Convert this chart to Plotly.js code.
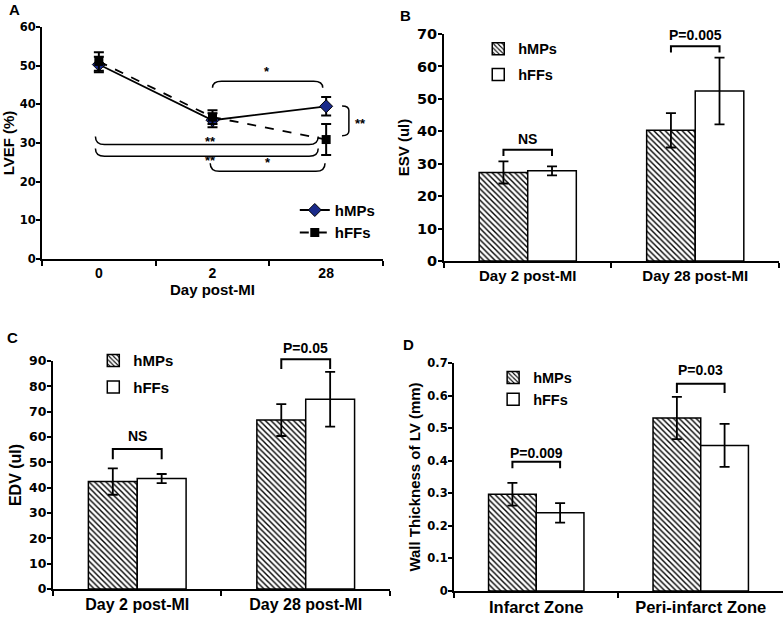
<!DOCTYPE html>
<html><head><meta charset="utf-8">
<script src="https://cdn.plot.ly/plotly-3.0.1.min.js"></script>
<style>html,body{margin:0;padding:0;background:#fff}#chart{width:784px;height:617px}</style>
</head><body><div id="chart"></div>
<script>
// ---- Panel A: LVEF (%) ----
const daysA = ['0', '2', '28'];
const lvefMPs = [50.3, 35.9, 39.5];
const lvefMPsErr = [2.0, 1.8, 2.4];
const lvefFFs = [51.1, 36.7, 30.9];
const lvefFFsErr = [2.4, 1.8, 4.0];
// ---- Panel B: ESV (ul) ----
const catsBC = ['Day 2 post-MI', 'Day 28 post-MI'];
const esvMPs = [27.3, 40.3];
const esvMPsErr = [3.4, 5.3];
const esvFFs = [27.8, 52.4];
const esvFFsErr = [1.4, 10.3];
// ---- Panel C: EDV (ul) ----
const edvMPs = [42.4, 66.7];
const edvMPsErr = [5.2, 6.3];
const edvFFs = [43.6, 74.9];
const edvFFsErr = [1.8, 10.8];
// ---- Panel D: Wall thickness of LV (mm) ----
const catsD = ['Infarct Zone', 'Peri-infarct Zone'];
const wallMPs = [0.297, 0.531];
const wallMPsErr = [0.035, 0.065];
const wallFFs = [0.240, 0.447];
const wallFFsErr = [0.030, 0.066];
// significance labels
const sigB = ['NS', 'P=0.005'];
const sigC = ['NS', 'P=0.05'];
const sigD = ['P=0.009', 'P=0.03'];

const FONT = 'Liberation Sans, Arial, sans-serif';
const NUMFONT = 'DejaVu Sans, sans-serif';
const bold = (s, f) => ({family: f || FONT, size: s, color: '#000', weight: 'bold'});
const BARGAP = 0.42;

const hatch = {shape: '\\', fgcolor: '#000', bgcolor: '#fff', size: 4, solidity: 0.35};

function barPair(x, ya, yb, ea, eb, xa, yax, lg) {
  return [
    {type: 'bar', name: 'hMPs', x: x, y: ya, xaxis: xa, yaxis: yax, legend: lg, legendgroup: lg + 'a',
     marker: {color: '#fff', pattern: hatch, line: {color: '#000', width: 1.5}},
     error_y: {type: 'data', array: ea, color: '#000', thickness: 1.8, width: 5}},
    {type: 'bar', name: 'hFFs', x: x, y: yb, xaxis: xa, yaxis: yax, legend: lg, legendgroup: lg + 'b',
     marker: {color: '#fff', line: {color: '#000', width: 1.5}},
     error_y: {type: 'data', array: eb, color: '#000', thickness: 1.8, width: 5}}
  ];
}

const data = [
  {type: 'scatter', mode: 'lines+markers', name: 'hMPs', x: daysA, y: lvefMPs, xaxis: 'x', yaxis: 'y', legend: 'legend',
   line: {color: '#000', width: 1.8}, marker: {symbol: 'diamond', size: 10, color: '#1a2a8a', line: {color: '#000', width: 1}},
   error_y: {type: 'data', array: lvefMPsErr, color: '#000', thickness: 2, width: 5}},
  {type: 'scatter', mode: 'lines+markers', name: 'hFFs', x: daysA, y: lvefFFs, xaxis: 'x', yaxis: 'y', legend: 'legend',
   line: {color: '#000', width: 1.8, dash: 'dash'}, marker: {symbol: 'square', size: 9, color: '#000'},
   error_y: {type: 'data', array: lvefFFsErr, color: '#000', thickness: 2, width: 5}},
  ...barPair(catsBC, esvMPs, esvFFs, esvMPsErr, esvFFsErr, 'x2', 'y2', 'legend2'),
  ...barPair(catsBC, edvMPs, edvFFs, edvMPsErr, edvFFsErr, 'x3', 'y3', 'legend3'),
  ...barPair(catsD, wallMPs, wallFFs, wallMPsErr, wallFFsErr, 'x4', 'y4', 'legend4')
];

function xax(dom, anchor, fsize, extra) {
  return Object.assign({domain: dom, anchor: anchor, type: 'category', showline: true, linecolor: '#000', linewidth: 2,
    ticks: 'outside', tickson: 'boundaries', ticklen: 5, tickwidth: 2, tickcolor: '#000',
    showgrid: false, zeroline: false, tickfont: bold(fsize), fixedrange: true}, extra || {});
}
function yax(dom, anchor, range, dtick, nsize, title, standoff, tsize) {
  return {domain: dom, anchor: anchor, range: range, dtick: dtick, showline: true, linecolor: '#000', linewidth: 2,
    ticks: 'outside', ticklen: 4, tickwidth: 2, tickcolor: '#000', showgrid: false, zeroline: false, ticklabelstandoff: -2,
    tickfont: bold(nsize, NUMFONT), title: {text: title, font: bold(tsize || 15), standoff: standoff}};
}

const layout = {
  width: 784, height: 617, margin: {l: 0, r: 0, t: 0, b: 0},
  paper_bgcolor: '#fff', plot_bgcolor: 'rgba(0,0,0,0)',
  font: bold(14), barmode: 'group', bargap: BARGAP, bargroupgap: 0,
  xaxis: xax([0.0536, 0.4885], 'y', 14, {range: [-0.5, 2.5], title: {text: 'Day post-MI', font: bold(15), standoff: 4}}),
  yaxis: yax([0.5802, 0.9562], 'x', [0, 60], 10, 11.5, 'LVEF (%)', 5),
  xaxis2: xax([0.5663, 0.9936], 'y2', 15, {range: [-0.5, 1.5]}),
  yaxis2: yax([0.5770, 0.9449], 'x2', [0, 70], 10, 14.5, 'ESV (ul)', 4),
  xaxis3: xax([0.0676, 0.4974], 'y3', 16, {range: [-0.5, 1.5]}),
  yaxis3: yax([0.0454, 0.4149], 'x3', [0, 90], 10, 12.5, 'EDV (ul)', 3, 16),
  xaxis4: xax([0.5791, 0.9987], 'y4', 16.5, {range: [-0.5, 1.5]}),
  yaxis4: yax([0.0421, 0.4117], 'x4', [0, 0.7], 0.1, 11.5, 'Wall Thickness of LV (mm)', 3, 15),
  legend: {x: 0.376, y: 0.686, xanchor: 'left', yanchor: 'top', bgcolor: 'rgba(0,0,0,0)', font: bold(15)},
  legend2: {x: 0.610, y: 0.947, xanchor: 'left', yanchor: 'top', bgcolor: 'rgba(0,0,0,0)', font: bold(14.5), tracegroupgap: 4},
  legend3: {x: 0.119, y: 0.442, xanchor: 'left', yanchor: 'top', bgcolor: 'rgba(0,0,0,0)', font: bold(15), tracegroupgap: 4},
  legend4: {x: 0.629, y: 0.414, xanchor: 'left', yanchor: 'top', bgcolor: 'rgba(0,0,0,0)', font: bold(14.5), tracegroupgap: 0},
  showlegend: true,
  shapes: [], annotations: []
};

// convert data coordinates to paper coordinates (so brackets above the axis top are not clipped)
function px(axName, v) { const a = layout[axName]; return a.domain[0] + (v - a.range[0]) / (a.range[1] - a.range[0]) * (a.domain[1] - a.domain[0]); }
function pt(xa, ya, x, y) { return px(xa, x).toFixed(5) + ',' + px(ya, y).toFixed(5); }
function pathShape(d, w) { return {type: 'path', xref: 'paper', yref: 'paper', path: d, line: {color: '#000', width: w || 2}, layer: 'above'}; }

// Panel A braces: [x0, x1, yLine, yEnd, label, labelY, labelX]
const bracesA = [
  [-0.03, 1.93, 29.6, 31.7, '**', 30.3, 0.98],
  [-0.03, 1.93, 26.6, 28.6, '**', 25.6, 0.98],
  [1.0, 1.97, 46.0, 44.3, '*', 48.4, 1.48],
  [0.98, 1.99, 22.7, 24.8, '*', 25.0, 1.49]
];
bracesA.forEach(([x0, x1, yl, ye, lab, ly, lx]) => {
  const d = 0.08;
  layout.shapes.push(pathShape('M' + pt('xaxis', 'yaxis', x0, ye) + ' Q' + pt('xaxis', 'yaxis', x0, yl) + ' ' + pt('xaxis', 'yaxis', x0 + d, yl) +
    ' L' + pt('xaxis', 'yaxis', x1 - d, yl) + ' Q' + pt('xaxis', 'yaxis', x1, yl) + ' ' + pt('xaxis', 'yaxis', x1, ye), 1.5));
  layout.annotations.push({xref: 'paper', yref: 'paper', x: px('xaxis', lx), y: px('yaxis', ly), text: lab, showarrow: false,
    font: {family: FONT, size: 13, color: '#000'}, xanchor: 'center', yanchor: 'middle'});
});
// vertical bracket at day 28
(function () {
  const xv = 2.20, xt = 2.14, y0 = 31.9, y1 = 39.6, dy = 1.2;
  layout.shapes.push(pathShape('M' + pt('xaxis', 'yaxis', xt, y1) + ' Q' + pt('xaxis', 'yaxis', xv, y1) + ' ' + pt('xaxis', 'yaxis', xv, y1 - dy) +
    ' L' + pt('xaxis', 'yaxis', xv, y0 + dy) + ' Q' + pt('xaxis', 'yaxis', xv, y0) + ' ' + pt('xaxis', 'yaxis', xt, y0), 1.5));
  layout.annotations.push({xref: 'paper', yref: 'paper', x: px('xaxis', 2.30), y: px('yaxis', 35.0), text: '**', showarrow: false,
    font: {family: FONT, size: 13, color: '#000'}, xanchor: 'center', yanchor: 'middle'});
})();

// Bar-panel brackets: [xa, ya, category index, yLine, yEnd, label, labelY]
const half = (1 - BARGAP) / 4;
const bracketsBar = [
  ['xaxis2', 'yaxis2', 0, 34.3, 32.4, sigB[0], 37.6],
  ['xaxis2', 'yaxis2', 1, 66.2, 64.3, sigB[1], 69.6],
  ['xaxis3', 'yaxis3', 0, 55.3, 51.2, sigC[0], 60.3],
  ['xaxis3', 'yaxis3', 1, 90.7, 86.8, sigC[1], 95.2],
  ['xaxis4', 'yaxis4', 0, 0.397, 0.377, sigD[0], 0.424],
  ['xaxis4', 'yaxis4', 1, 0.636, 0.608, sigD[1], 0.678]
];
bracketsBar.forEach(([xa, ya, i, yl, ye, lab, ly]) => {
  const x0 = i - half, x1 = i + half;
  layout.shapes.push(pathShape('M' + pt(xa, ya, x0, ye) + ' L' + pt(xa, ya, x0, yl) + ' L' + pt(xa, ya, x1, yl) + ' L' + pt(xa, ya, x1, ye), 2));
  layout.annotations.push({xref: 'paper', yref: 'paper', x: px(xa, i), y: px(ya, ly), text: lab, showarrow: false,
    font: bold(14), xanchor: 'center', yanchor: 'middle'});
});

// panel letters
[['A', 14, 9], ['B', 405, 15], ['C', 12, 337], ['D', 409, 344]].forEach(([t, x, y]) => {
  layout.annotations.push({xref: 'paper', yref: 'paper', x: x / 784, y: 1 - y / 617, text: t, showarrow: false,
    font: bold(15), xanchor: 'center', yanchor: 'middle'});
});

Plotly.newPlot('chart', data, layout, {staticPlot: true, displayModeBar: false});
</script>
</body></html>
